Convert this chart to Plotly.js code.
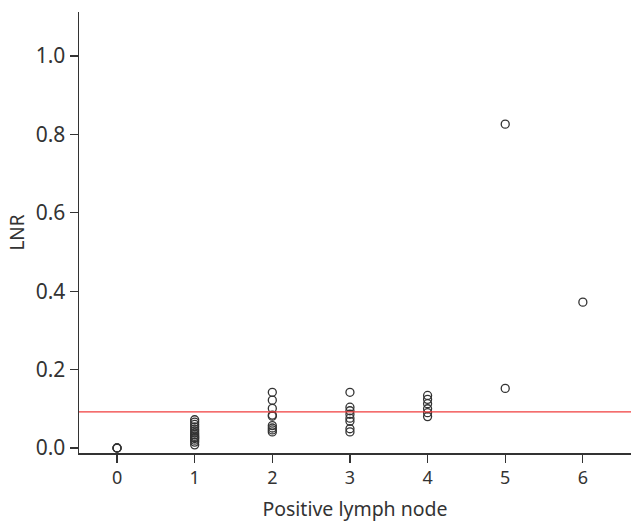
<!DOCTYPE html>
<html>
<head>
<meta charset="utf-8">
<script src="https://cdn.plot.ly/plotly-3.0.1.min.js"></script>
<style>html,body{margin:0;padding:0;background:#fff;}#chart{width:631px;height:525px;}</style>
</head>
<body>
<div id="chart"></div>
<script>
// LNR values grouped by number of positive lymph nodes
const nodes0 = [0, 0, 0];
const nodes1 = [0.072, 0.066, 0.060, 0.054, 0.048, 0.043, 0.038, 0.034, 0.030, 0.027, 0.024, 0.020, 0.015, 0.008];
const nodes2 = [0.142, 0.122, 0.101, 0.084, 0.081, 0.057, 0.051, 0.046, 0.041];
const nodes3 = [0.142, 0.104, 0.095, 0.086, 0.076, 0.068, 0.049, 0.041];
const nodes4 = [0.134, 0.124, 0.113, 0.100, 0.090, 0.080];
const nodes5 = [0.826, 0.152];
const nodes6 = [0.372];
const cutoff = 0.092;
const xTicks = [0, 1, 2, 3, 4, 5, 6];
const yTicks = [0.0, 0.2, 0.4, 0.6, 0.8, 1.0];
const yTickText = ["0.0", "0.2", "0.4", "0.6", "0.8", "1.0"];

const groups = [nodes0, nodes1, nodes2, nodes3, nodes4, nodes5, nodes6];
const xs = [], ys = [];
groups.forEach((g, i) => g.forEach(v => { xs.push(xTicks[i]); ys.push(v); }));

const font = "Noto Sans, Open Sans, sans-serif";
const trace = {
  type: "scatter", mode: "markers", x: xs, y: ys,
  marker: {symbol: "circle-open", size: 8, color: "#333", line: {width: 1.3, color: "#333"}},
  hoverinfo: "x+y", showlegend: false
};

const layout = {
  width: 631, height: 525,
  margin: {l: 79, r: 0, t: 12, b: 72},
  paper_bgcolor: "#fff", plot_bgcolor: "#fff",
  font: {family: font, color: "#333"},
  xaxis: {
    range: [-0.49, 6.62], tickvals: xTicks, ticktext: xTicks.map(String),
    showline: true, linecolor: "#333", linewidth: 1.5, mirror: false,
    ticks: "outside", ticklen: 8, tickcolor: "#333", tickwidth: 1.2,
    showgrid: false, zeroline: false,
    tickfont: {size: 18, color: "#333"},
    title: {text: "Positive lymph node", font: {size: 19.5, color: "#333"}, standoff: 14}
  },
  yaxis: {
    range: [-0.0128, 1.112], tickvals: yTicks, ticktext: yTickText,
    showline: true, linecolor: "#333", linewidth: 1.5,
    ticks: "outside", ticklen: 8, tickcolor: "#333", tickwidth: 1.2,
    showgrid: false, zeroline: false,
    tickfont: {size: 21, color: "#333"},
    title: {text: "LNR", font: {size: 19, color: "#333"}, standoff: 6}
  },
  shapes: [{
    type: "line", xref: "paper", x0: 0, x1: 1, yref: "y", y0: cutoff, y1: cutoff,
    line: {color: "rgb(240,60,60)", width: 1.4}
  }]
};

Plotly.newPlot("chart", [trace], layout, {displayModeBar: false, staticPlot: true});
</script>
</body>
</html>
